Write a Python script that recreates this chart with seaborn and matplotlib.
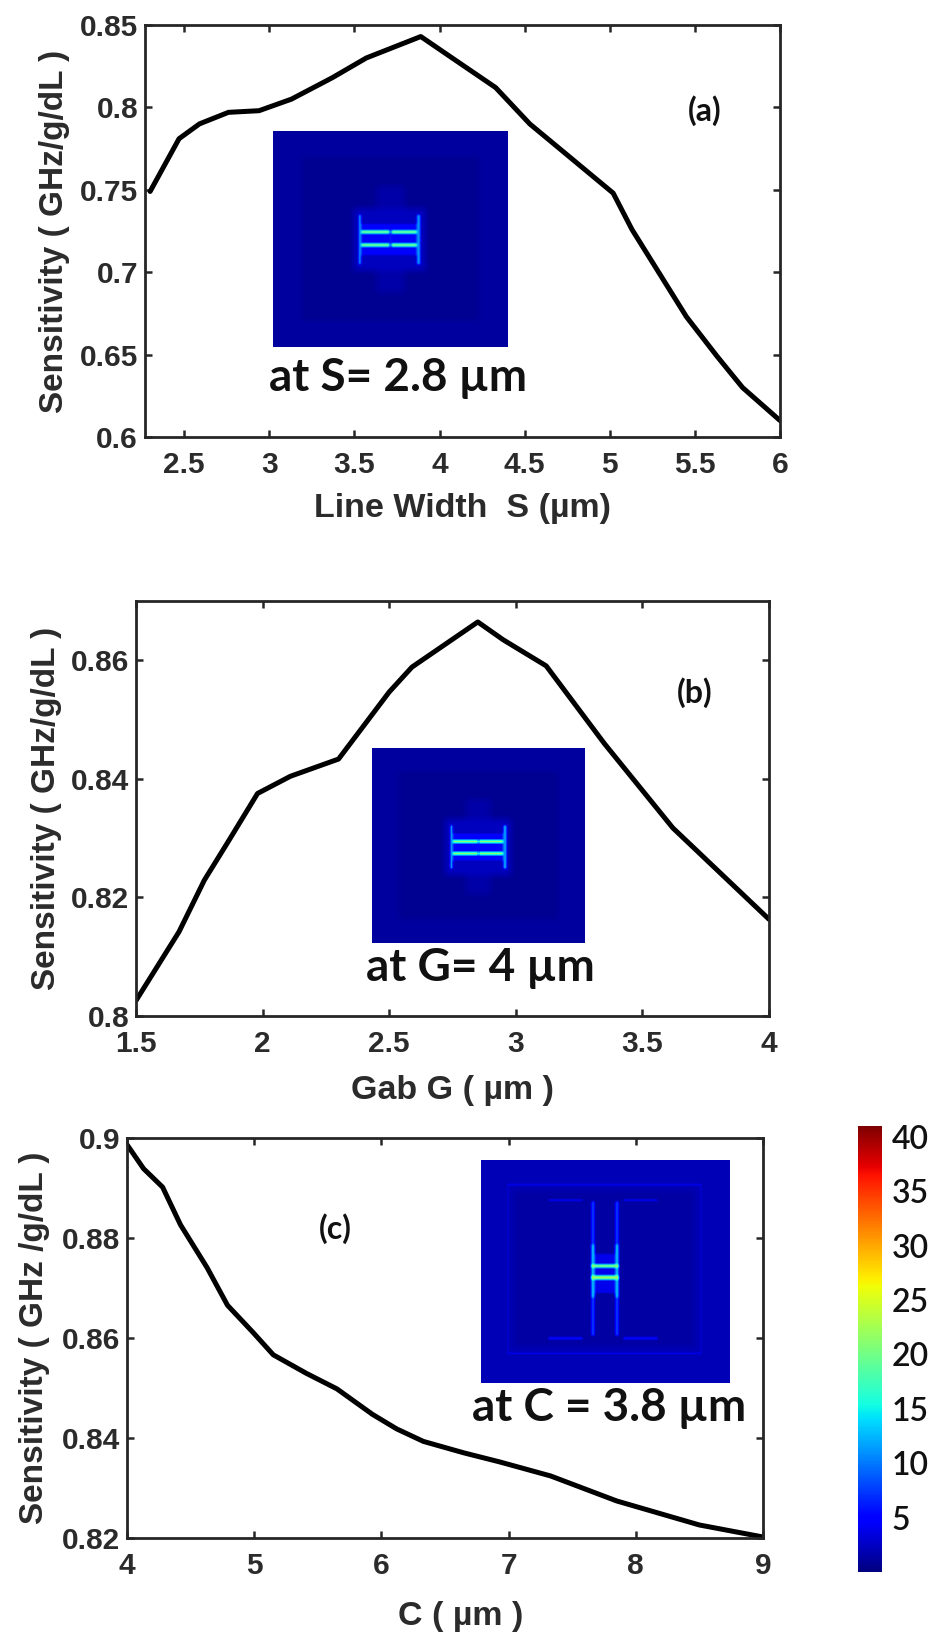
import numpy as np
import matplotlib
matplotlib.use("Agg")
import matplotlib.pyplot as plt
import seaborn as sns
import pandas as pd
from matplotlib import colors, cm

# ---- data -------------------------------------------------------------
# (a) sensitivity vs. line width S
line_width_s = [2.30, 2.47, 2.59, 2.76, 2.94, 3.13, 3.37, 3.57, 3.89, 4.06,
                4.33, 4.53, 5.02, 5.13, 5.45, 5.63, 5.78, 6.00]
sens_s = [0.749, 0.781, 0.790, 0.797, 0.798, 0.805, 0.818, 0.830, 0.843, 0.831,
          0.812, 0.790, 0.748, 0.726, 0.673, 0.649, 0.630, 0.610]

# (b) sensitivity vs. gap G
gap_g = [1.50, 1.67, 1.77, 1.86, 1.98, 2.11, 2.30, 2.50, 2.59, 2.85,
         2.95, 3.12, 3.35, 3.62, 4.00]
sens_g = [0.8026, 0.8142, 0.8229, 0.8291, 0.8375, 0.8404, 0.8433, 0.8546, 0.8588,
          0.8664, 0.8634, 0.8590, 0.8459, 0.8317, 0.8163]

# (c) sensitivity vs. C
c_len = [4.00, 4.13, 4.28, 4.42, 4.63, 4.79, 4.99, 5.15, 5.41, 5.65, 5.93,
         6.12, 6.33, 6.65, 6.93, 7.33, 7.85, 8.50, 9.00]
sens_c = [0.8986, 0.8938, 0.8901, 0.8826, 0.8740, 0.8665, 0.8611, 0.8566, 0.8529,
          0.8498, 0.8447, 0.8418, 0.8393, 0.8370, 0.8352, 0.8324, 0.8274, 0.8226, 0.8202]

xticks_a = [2.5, 3, 3.5, 4, 4.5, 5, 5.5, 6]
xticklabels_a = ["2.5", "3", "3.5", "4", "4.5", "5", "5.5", "6"]
yticks_a = [0.6, 0.65, 0.7, 0.75, 0.8, 0.85]
yticklabels_a = ["0.6", "0.65", "0.7", "0.75", "0.8", "0.85"]

xticks_b = [1.5, 2, 2.5, 3, 3.5, 4]
xticklabels_b = ["1.5", "2", "2.5", "3", "3.5", "4"]
yticks_b = [0.80, 0.82, 0.84, 0.86]
yticklabels_b = ["0.8", "0.82", "0.84", "0.86"]

xticks_c = [4, 5, 6, 7, 8, 9]
xticklabels_c = ["4", "5", "6", "7", "8", "9"]
yticks_c = [0.82, 0.84, 0.86, 0.88, 0.90]
yticklabels_c = ["0.82", "0.84", "0.86", "0.88", "0.9"]

cbar_ticks = [5, 10, 15, 20, 25, 30, 35, 40]

# ---- style ------------------------------------------------------------
sns.set_theme(style="ticks")
plt.rcParams["font.family"] = ["Liberation Sans", "DejaVu Sans"]
plt.rcParams["font.weight"] = "bold"

W, H = 936, 1636
DPI = 100
fig = plt.figure(figsize=(W / DPI, H / DPI), dpi=DPI, facecolor="white")

SPINE = "#262626"
TXT = "#2b2b2b"


def box_px(x0, y0, x1, y1):
    """figure-fraction rectangle from pixel corners (origin top-left)"""
    return [x0 / W, 1 - y1 / H, (x1 - x0) / W, (y1 - y0) / H]


def style_axes(ax, xlim, ylim, xt, xtl, yt, ytl, xlabel, ylabel, ylab_x, xlab_xy):
    ax.set_xlim(*xlim)
    ax.set_ylim(*ylim)
    ax.set_xticks(xt)
    ax.set_xticklabels(xtl)
    ax.set_yticks(yt)
    ax.set_yticklabels(ytl)
    for s in ax.spines.values():
        s.set_visible(True)
        s.set_linewidth(2.0)
        s.set_color(SPINE)
    ax.tick_params(axis="both", direction="in", length=5, width=1.8, color=SPINE,
                   top=True, right=True, labelsize=21.5, labelcolor=TXT)
    ax.tick_params(axis="x", pad=10)
    ax.tick_params(axis="y", pad=5)
    for lab in ax.get_xticklabels() + ax.get_yticklabels():
        lab.set_fontweight("bold")
    ax.set_xlabel(xlabel, fontsize=24.5, fontweight="bold", color=TXT)
    ax.set_ylabel(ylabel, fontsize=24, fontweight="bold", color=TXT)
    ax.yaxis.set_label_coords(ylab_x, 0.5)
    ax.xaxis.set_label_coords(*xlab_xy)
    ax.set_facecolor("white")
    ax.grid(False)


def smooth(a, k=3):
    ker = np.ones(k) / k
    pad = k // 2
    a = np.pad(a, pad, mode="edge")
    a = np.apply_along_axis(lambda r: np.convolve(r, ker, mode="same"), 1, a)
    a = np.apply_along_axis(lambda r: np.convolve(r, ker, mode="same"), 0, a)
    return a[pad:-pad, pad:-pad] if pad else a


def put(f, x0, x1, y0, y1, val):
    ny, nx = f.shape
    f[int(round(y0 * ny)):int(round(y1 * ny)), int(round(x0 * nx)):int(round(x1 * nx))] = val


def field_split_ring(nx, ny, ly1, ly2, lx0, lx1, cy0, cy1):
    """|E| map of the split-ring gap seen from above: two gap edges with end caps"""
    base = np.full((ny, nx), 1.25)
    put(base, 0.12, 0.88, 0.12, 0.88, 0.7)
    put(base, 0.44, 0.56, 0.26, 0.75, 1.5)
    put(base, lx0 - 0.03, lx1 + 0.03, cy0 - 0.03, cy1 + 0.03, 2.4)
    base = smooth(base, 9)
    f = np.zeros((ny, nx))
    put(f, lx0, lx1, cy0 + 0.04, cy1 - 0.04, 5.0)
    t = 1.5 / ny
    put(f, lx0, lx1, ly1 - t, ly1 + t, 21.0)
    put(f, lx0, lx1, ly2 - t, ly2 + t, 21.0)
    tx = 1.6 / nx
    put(f, lx0 - tx, lx0 + tx, cy0, cy1, 11.0)
    put(f, lx1 - tx, lx1 + tx, cy0, cy1, 11.0)
    put(f, 0.496, 0.504, ly1 - t, ly2 + t, 6.0)
    return np.maximum(base, smooth(f, 3))


def field_t_ring(nx, ny):
    """|E| map of the ring with the T-shaped arms"""
    base = np.full((ny, nx), 2.0)
    put(base, 0.13, 0.86, 0.14, 0.84, 1.3)
    base = smooth(base, 9)
    f = np.zeros((ny, nx))
    # outer ring outline
    put(f, 0.104, 0.888, 0.108, 0.874, 4.0)
    put(f, 0.114, 0.878, 0.122, 0.862, 0.0)
    # top and bottom arms
    put(f, 0.27, 0.41, 0.178, 0.19, 5.5)
    put(f, 0.57, 0.71, 0.178, 0.19, 5.5)
    put(f, 0.27, 0.41, 0.794, 0.806, 5.5)
    put(f, 0.57, 0.71, 0.794, 0.806, 5.5)
    # central vertical conductors
    put(f, 0.440, 0.456, 0.19, 0.79, 7.0)
    put(f, 0.540, 0.556, 0.19, 0.79, 7.0)
    put(f, 0.440, 0.456, 0.38, 0.62, 12.0)
    put(f, 0.540, 0.556, 0.38, 0.62, 12.0)
    put(f, 0.456, 0.540, 0.42, 0.60, 4.0)
    # gap edges
    put(f, 0.440, 0.556, 0.470, 0.484, 22.0)
    put(f, 0.440, 0.556, 0.522, 0.536, 22.0)
    return np.maximum(base, smooth(f, 3))


norm = colors.Normalize(vmin=0, vmax=41)
CMAP = "jet"


def draw_inset(rect, field):
    iax = fig.add_axes(rect)
    iax.imshow(field, cmap=CMAP, norm=norm, aspect="auto", interpolation="bilinear")
    iax.set_axis_off()
    return iax


LW = 3.6

# ---- (a) ------------------------------------------------------------------
ax_a = fig.add_axes(box_px(145, 25, 780, 437))
df_a = pd.DataFrame({"S": line_width_s, "sens": sens_s})
sns.lineplot(data=df_a, x="S", y="sens", ax=ax_a, color="black", linewidth=LW, sort=False)
style_axes(ax_a, (2.27, 6.0), (0.6, 0.85), xticks_a, xticklabels_a, yticks_a, yticklabels_a,
           "Line Width  S (\u00b5m)", "Sensitivity ( GHz/g/dL )", -0.118, (0.5, -0.135))

# ---- (b) ------------------------------------------------------------------
ax_b = fig.add_axes(box_px(136, 600.6, 769, 1016))
df_b = pd.DataFrame({"G": gap_g, "sens": sens_g})
sns.lineplot(data=df_b, x="G", y="sens", ax=ax_b, color="black", linewidth=LW, sort=False)
style_axes(ax_b, (1.5, 4.0), (0.8, 0.87), xticks_b, xticklabels_b, yticks_b, yticklabels_b,
           "Gab G ( \u00b5m )", "Sensitivity ( GHz/g/dL )", -0.117, (0.5, -0.143))

# ---- (c) ------------------------------------------------------------------
ax_c = fig.add_axes(box_px(127, 1137.6, 763, 1538))
df_c = pd.DataFrame({"C": c_len, "sens": sens_c})
sns.lineplot(data=df_c, x="C", y="sens", ax=ax_c, color="black", linewidth=LW, sort=False)
style_axes(ax_c, (4.0, 9.0), (0.82, 0.9), xticks_c, xticklabels_c, yticks_c, yticklabels_c,
           "C ( \u00b5m )", "Sensitivity ( GHz /g/dL )", -0.121, (0.525, -0.158))

# ---- field-map insets -------------------------------------------------------
draw_inset(box_px(273, 131, 507, 347),
           field_split_ring(234, 216, 0.472, 0.532, 0.37, 0.62, 0.39, 0.62))
draw_inset(box_px(372, 748, 585, 943),
           field_split_ring(213, 195, 0.48, 0.54, 0.375, 0.624, 0.395, 0.62))
draw_inset(box_px(481, 1160, 730, 1383), field_t_ring(249, 223))

# ---- annotations -----------------------------------------------------------
ANN = ["Lato", "DejaVu Sans"]


def ftext(px, py, s, size, **kw):
    fig.text(px / W, 1 - py / H, s, fontsize=size, family=ANN, color="#111111", **kw)


ftext(398, 391, "at S= 2.8 \u00b5m", 33, ha="center", va="baseline", fontweight="bold")
ftext(480, 981, "at G= 4 \u00b5m", 33, ha="center", va="baseline", fontweight="bold")
ftext(609, 1421, "at C = 3.8 \u00b5m", 33, ha="center", va="baseline", fontweight="bold")
ftext(705, 111, "(a)", 23, ha="center", va="center", fontweight="bold")
ftext(695, 693, "(b)", 23, ha="center", va="center", fontweight="bold")
ftext(335, 1229, "(c)", 23, ha="center", va="center", fontweight="bold")

# ---- colour bar ------------------------------------------------------------
cax = fig.add_axes(box_px(858, 1126, 882, 1572))
sm = cm.ScalarMappable(norm=norm, cmap=CMAP)
cb = fig.colorbar(sm, cax=cax, ticks=cbar_ticks)
cb.outline.set_visible(False)
cax.tick_params(direction="in", length=4, width=1.2, color="#222222",
                left=True, right=True, labelsize=23, pad=7)
for lab in cax.get_yticklabels():
    lab.set_family(ANN)
    lab.set_fontweight("semibold")
    lab.set_color("#111111")

fig.savefig("out.png", dpi=DPI, facecolor="white")
